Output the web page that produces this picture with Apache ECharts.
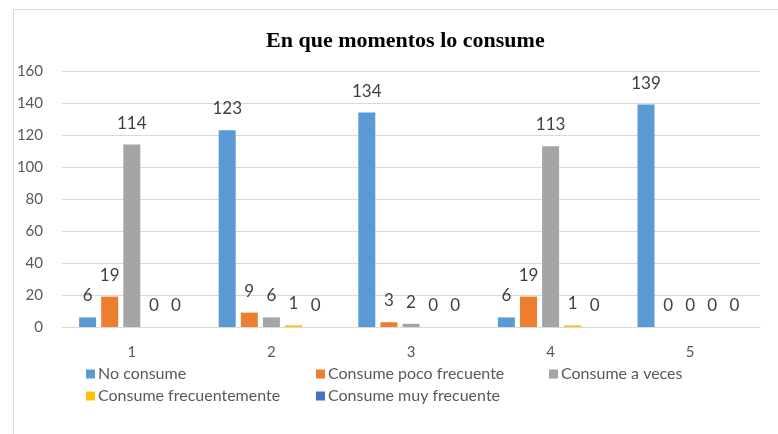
<!DOCTYPE html>
<html><head><meta charset="utf-8">
<script src="https://cdn.jsdelivr.net/npm/echarts@6/dist/echarts.min.js"></script>
<style>html,body{margin:0;padding:0;background:#fff}#c{width:778px;height:434px}</style>
</head><body><div id="c"></div>
<script>
const categories = ['1','2','3','4','5'];
const seriesNames = ['No consume','Consume poco frecuente','Consume a veces','Consume frecuentemente','Consume muy frecuente'];
const noConsume = [6,123,134,6,139];
const pocoFrecuente = [19,9,3,19,0];
const aVeces = [114,6,2,113,0];
const frecuentemente = [0,1,0,1,0];
const muyFrecuente = [0,0,0,0,0];
const yTicks = [0,20,40,60,80,100,120,140,160];
const colors = ['#5B9BD5','#ED7D31','#A5A5A5','#FFC000','#4472C4'];
const values = [noConsume,pocoFrecuente,aVeces,frecuentemente,muyFrecuente];
const font = 'Lato, "Open Sans", sans-serif';

const chart = echarts.init(document.getElementById('c'));
const legendPos = [[86,366],[316,366],[549,366],[86,388],[316,388]];
chart.setOption({
  animation:false,
  color:colors,
  graphic:[{type:'rect',left:11,top:7,shape:{x:0,y:0,width:800,height:460},style:{fill:'none',stroke:'#D9D9D9',lineWidth:1}}],
  title:{text:'En que momentos lo consume',left:261,top:25,textStyle:{fontFamily:'"Liberation Serif", serif',fontWeight:'bold',fontSize:22,color:'#000'}},
  legend:seriesNames.map((n,i)=>({data:[n],left:legendPos[i][0],top:legendPos[i][1],itemWidth:9,itemHeight:9,itemGap:4,icon:'rect',padding:0,textStyle:{fontFamily:font,fontSize:16,color:'#595959',padding:[0,0,0,-2]}})),
  grid:{left:62,right:18,top:71,bottom:107},
  xAxis:{type:'category',data:categories,axisLine:{lineStyle:{color:'#D9D9D9'}},axisTick:{show:false},axisLabel:{color:'#595959',fontFamily:font,fontSize:15,margin:18}},
  yAxis:{type:'value',min:yTicks[0],max:yTicks[yTicks.length-1],interval:yTicks[1]-yTicks[0],axisLine:{show:false},axisTick:{show:false},splitLine:{lineStyle:{color:'#D9D9D9'}},axisLabel:{color:'#595959',fontFamily:font,fontSize:15,margin:19}},
  series:seriesNames.map((n,i)=>({name:n,type:'bar',data:values[i],barWidth:17,barGap:'30%',label:{show:true,position:'top',distance:13,color:'#404040',fontFamily:font,fontSize:17}}))
});
</script></body></html>
